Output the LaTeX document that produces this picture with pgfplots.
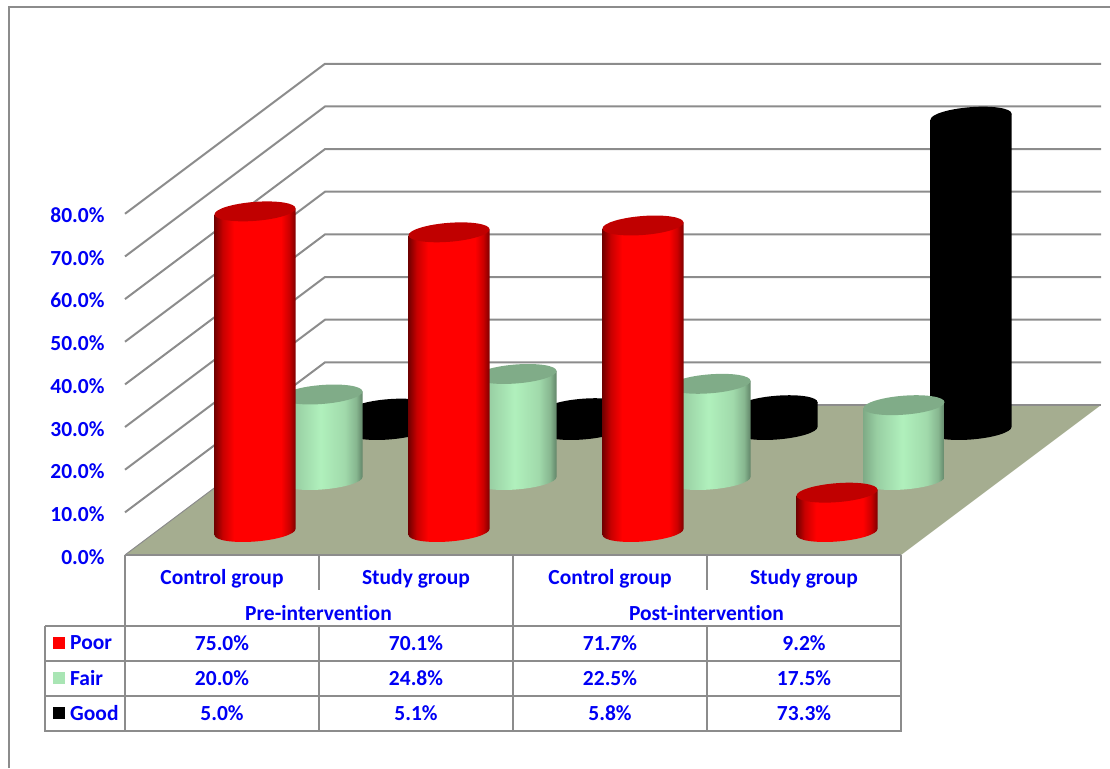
\documentclass[border=0pt]{standalone}
\usepackage{fontspec}
\setmainfont[Ligatures=CommonOff]{Carlito}
\usepackage{pgfplots}
\usepackage{pgfplotstable}
\pgfplotsset{compat=1.18}

\definecolor{wallgray}{HTML}{8C8C8C}
\definecolor{floorcol}{HTML}{A5AD90}
\definecolor{txtblue}{HTML}{0000F5}
\definecolor{fairkey}{HTML}{A9E5B4}
\definecolor{fairmid}{HTML}{B0F0BC}
\definecolor{fairtop}{HTML}{80AC88}
\definecolor{poortop}{HTML}{C00000}

% horizontal shadings, the box edges sit at 25bp and 75bp
\pgfdeclarehorizontalshading{redcyl}{100bp}{
  color(0bp)=(red!45!black); color(25bp)=(red!45!black); color(30bp)=(red!78!black);
  color(37bp)=(red); color(66bp)=(red); color(71bp)=(red!80!black);
  color(75bp)=(red!50!black); color(100bp)=(red!50!black)}
\pgfdeclarehorizontalshading{greencyl}{100bp}{
  color(0bp)=(fairkey!75!black); color(25bp)=(fairkey!75!black); color(33bp)=(fairkey!90!black);
  color(49bp)=(fairmid); color(64bp)=(fairkey!95!black); color(71bp)=(fairkey!80!black);
  color(75bp)=(fairkey!58!black); color(100bp)=(fairkey!58!black)}
\pgfdeclarehorizontalshading{blackcyl}{100bp}{
  color(0bp)=(black); color(100bp)=(black)}

% cylinder: origin at the centre of the top face, \v is the plotted value
\newcommand{\cylmark}[3]{%
  \pgfdeclareplotmark{#1}{%
    \pgfmathsetmacro\hh{\v*4.275}%
    \path[shading=#2,draw=none,fill=none] (-40.5pt,-3pt) -- (-40.5pt,-\hh pt-3pt)
      .. controls (-40.5pt,-\hh pt-8.25pt) and (-22.4pt,-\hh pt-11.2pt) .. (0pt,-\hh pt-9.5pt)
      .. controls (22.4pt,-\hh pt-7.8pt) and (40.5pt,-\hh pt-2.25pt) .. (40.5pt,-\hh pt+3pt)
      -- (40.5pt,3pt) -- cycle;
    \pgfsetfillcolor{#3}%
    \pgfpathellipse{\pgfpointorigin}{\pgfpoint{40.5pt}{3pt}}{\pgfpoint{0pt}{9.5pt}}%
    \pgfusepath{fill}}}
\cylmark{cylred}{redcyl}{poortop}
\cylmark{cylgreen}{greencyl}{fairtop}
\cylmark{cylblack}{blackcyl}{black}

\pgfplotstableread{
x poor fair good
0 75.0 20.0 5.0
1 70.1 24.8 5.1
2 71.7 22.5 5.8
3 9.2 17.5 73.3
}\results

\pgfplotsset{
  depthrow/.style={
    scale only axis, width=776pt, height=342pt,
    xmin=-0.5, xmax=3.5, ymin=0, ymax=80,
    hide axis, clip=false},
  cyl/.style={scatter, only marks, scatter src=y, mark=#1,
    scatter/use mapped color={draw=none,fill=none},
    visualization depends on={rawy \as \v}}
}

\begin{document}
\begin{tikzpicture}
\useasboundingbox (0,0) rectangle (1110pt,768pt);

% walls, floor, table rules in pixel coordinates of the page
\begin{scope}[x=1pt,y=-1pt,yshift=768pt]
  \draw[wallgray,line width=2pt] (9,768) -- (9,7) -- (1110,7);
  \foreach \k in {1,...,8} {
    \pgfmathsetmacro\dy{\k*42.65}
    \draw[wallgray,line width=2pt] (125,555-\dy) -- (325,405-\dy) -- (1101,405-\dy);
  }
  \fill[floorcol] (125,555) -- (901,555) -- (1101,405) -- (325,405) -- cycle;
  \draw[wallgray,line width=2pt] (325,405) -- (1101,405);
  \draw[wallgray,line width=1pt] (125,555) -- (325,405);

  \draw[wallgray,line width=2.4pt] (125,555) -- (901,555);
  \draw[wallgray,line width=2.4pt] (45,626) -- (901,626);
  \draw[wallgray,line width=2.4pt] (45,661) -- (901,661);
  \draw[wallgray,line width=2.4pt] (45,696) -- (901,696);
  \draw[wallgray,line width=2.6pt] (44,731) -- (902,731);
  \draw[wallgray,line width=2.4pt] (45,626) -- (45,731);
  \draw[wallgray,line width=2.6pt] (125,555) -- (125,590);
  \draw[wallgray,line width=1.5pt] (125,590) -- (125,626);
  \draw[wallgray,line width=2.6pt] (125,626) -- (125,731);
  \foreach \cx in {319,707} {
    \draw[wallgray,line width=2.2pt] (\cx,555) -- (\cx,590);
    \draw[wallgray,line width=2.6pt] (\cx,626) -- (\cx,731);
  }
  \draw[wallgray,line width=2.4pt] (513,555) -- (513,731);
  \draw[wallgray,line width=1.5pt] (901,555) -- (901,626);
  \draw[wallgray,line width=2.6pt] (901,626) -- (901,731);
\end{scope}

% good row, at the back
\begin{axis}[depthrow, at={(292pt,338pt)}, anchor=south west]
\addplot[cyl=cylblack] table[x=x,y=good] {\results};
\end{axis}
% fair row
\begin{axis}[depthrow, at={(225pt,288pt)}, anchor=south west]
\addplot[cyl=cylgreen] table[x=x,y=fair] {\results};
\end{axis}
% poor row, in front
\begin{axis}[depthrow, at={(158pt,236pt)}, anchor=south west]
\addplot[cyl=cylred] table[x=x,y=poor] {\results};
\end{axis}

% front plane, only carries the tick labels
\begin{axis}[
  scale only axis, width=776pt, height=342pt,
  at={(125pt,213pt)}, anchor=south west,
  xmin=-0.5, xmax=3.5, ymin=0, ymax=80,
  axis line style={draw=none}, major tick length=0pt,
  xtick={0,1,2,3},
  xticklabels={Control group,Study group,Control group,Study group},
  ytick={0,10,...,80},
  yticklabels={0.0\%,10.0\%,20.0\%,30.0\%,40.0\%,50.0\%,60.0\%,70.0\%,80.0\%},
  tick label style={font=\fontsize{21.5}{24}\bfseries\selectfont,text=txtblue},
  xticklabel style={anchor=center,yshift=-24pt},
  yticklabel style={anchor=east,xshift=-17pt,yshift=-2pt}
]
\end{axis}

\begin{scope}[x=1pt,y=-1pt,yshift=768pt,
    every node/.style={font=\fontsize{21.5}{24}\bfseries\selectfont,text=txtblue,inner sep=0pt}]
  \node at (318.5,613) {Pre-intervention};
  \node at (706.5,613) {Post-intervention};
  \fill[red] (53,637) rectangle (65,649);
  \fill[fairkey] (53,672) rectangle (65,684);
  \fill[black] (53,707) rectangle (65,719);
  \node[anchor=west] at (70,643) {Poor};
  \node[anchor=west] at (70,678) {Fair};
  \node[anchor=west] at (70,713) {Good};
  \foreach \cx/\a/\b/\c in {222/75.0/20.0/5.0,416/70.1/24.8/5.1,610/71.7/22.5/5.8,804/9.2/17.5/73.3} {
    \node at (\cx,643) {\a\%};
    \node at (\cx,678) {\b\%};
    \node at (\cx,713) {\c\%};
  }
\end{scope}
\end{tikzpicture}
\end{document}
